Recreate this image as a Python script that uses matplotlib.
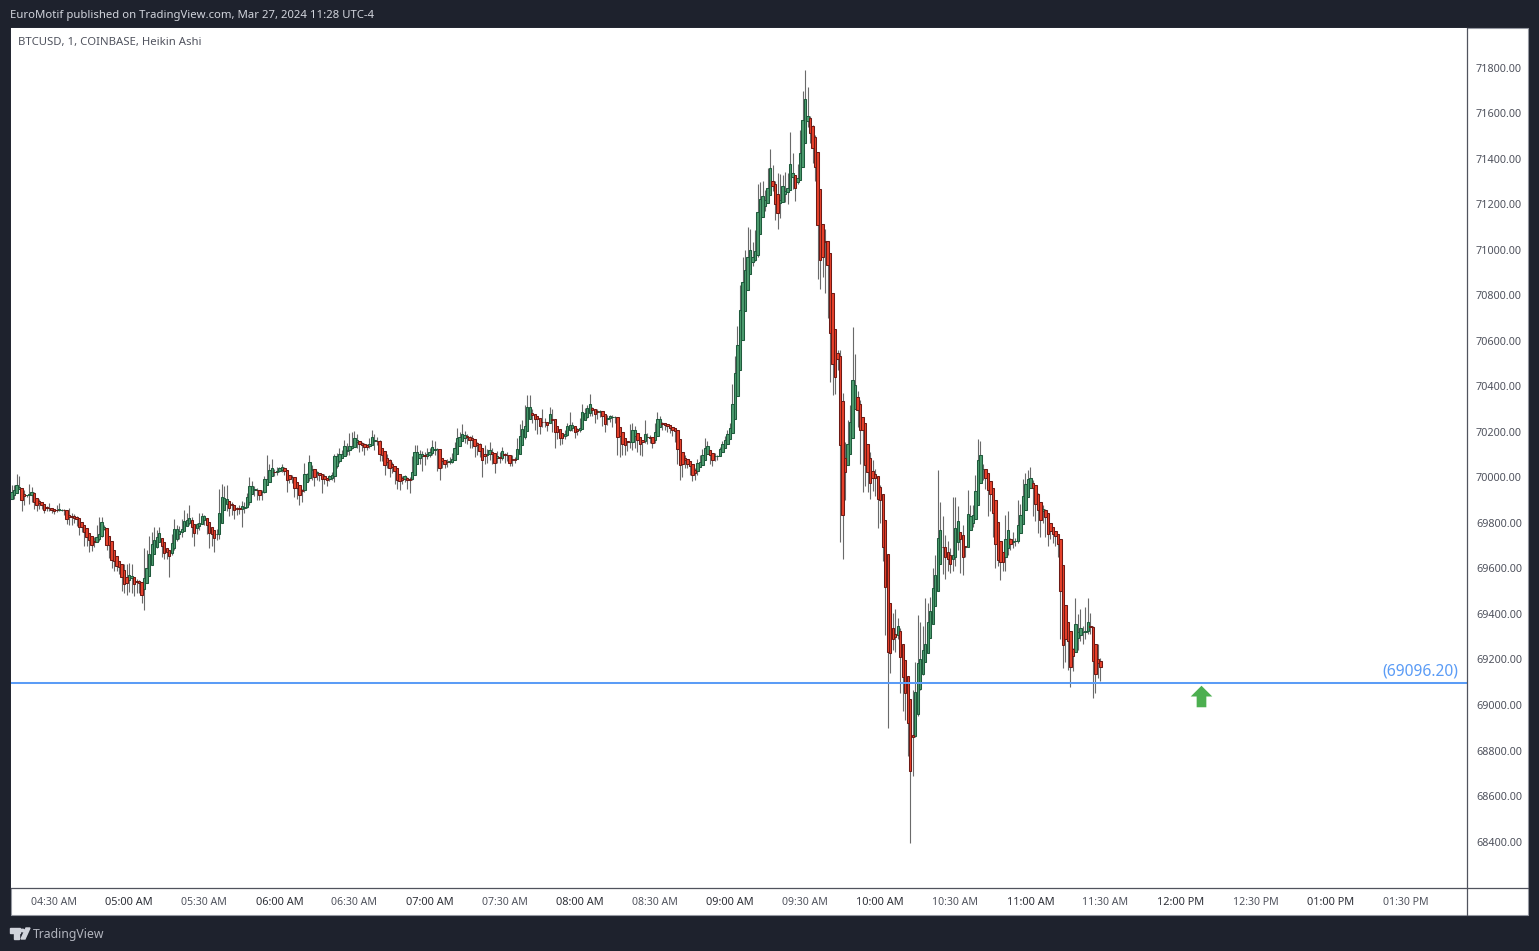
import numpy as np
import matplotlib
matplotlib.use("Agg")
import matplotlib.pyplot as plt
from matplotlib.lines import Line2D
from matplotlib.patches import Rectangle, Polygon, Circle
from matplotlib.path import Path

W, H = 1539, 951
FONT = "Noto Sans"

# 1 minute Heikin Ashi candles, first one at 04:13
first_minute = 4 * 60 + 13

closes = [
    69936,69943,69965,69958,69899,69917,69924,69926,69936,69892,
    69877,69889,69877,69855,69864,69866,69855,69850,69855,69860,
    69858,69855,69815,69826,69826,69820,69819,69782,69780,69760,
    69739,69724,69701,69715,69739,69753,69804,69782,69705,69702,
    69636,69634,69610,69607,69563,69531,69534,69569,69568,69530,
    69539,69537,69483,69560,69600,69663,69707,69724,69736,69756,
    69699,69666,69673,69655,69712,69771,69771,69765,69771,69809,
    69812,69823,69780,69756,69797,69800,69832,69829,69790,69756,
    69753,69734,69753,69844,69914,69910,69906,69867,69877,69855,
    69860,69860,69873,69870,69914,69960,69960,69947,69944,69924,
    69936,69994,69994,70034,70042,70023,70030,70039,70045,70030,
    69990,69994,70001,69955,69955,69923,69940,70016,70016,70069,
    70038,70001,70023,70012,69994,69993,69990,70004,70009,70092,
    70092,70104,70104,70136,70121,70139,70139,70174,70162,70147,
    70144,70133,70133,70148,70177,70163,70160,70101,70097,70053,
    70067,70042,70045,70028,69987,69984,69990,70004,69987,69990,
    70025,70113,70113,70101,70101,70092,70104,70111,70133,70126,
    70125,70042,70072,70057,70067,70072,70082,70130,70174,70177,
    70189,70187,70177,70163,70166,70136,70140,70116,70078,70095,
    70101,70119,70101,70063,70092,70086,70114,70097,70097,70063,
    70078,70078,70126,70180,70214,70227,70309,70309,70272,70258,
    70258,70227,70243,70243,70231,70277,70253,70199,70199,70174,
    70174,70192,70224,70228,70231,70199,70204,70218,70287,70283,
    70303,70324,70297,70280,70287,70290,70268,70236,70262,70268,
    70265,70265,70177,70180,70148,70141,70155,70157,70207,70209,
    70163,70145,70155,70192,70177,70174,70151,70198,70258,70258,
    70236,70231,70224,70217,70207,70204,70126,70054,70060,70075,
    70060,70048,70009,70019,70063,70068,70098,70130,70136,70097,
    70075,70092,70094,70126,70148,70163,70189,70218,70324,
    70460,70583,70737,70856,70913,70966,70998,70966,70995,71164,
    71221,71235,71218,71273,71361,71279,71200,71162,71218,71282,
    71259,71273,71375,71335,71269,71317,71423,71572,71664,71587,
    71511,71445,71365,71108,70954,70969,71035,70932,70632,70497,
    70441,70522,70140,69833,70023,70148,70243,70426,70407,70295,
    70209,70209,70053,70023,69975,69999,69999,69906,69899,69694,
    69519,69231,69227,69288,69300,69348,69212,69124,69054,68923,
    68708,68861,69056,69183,69200,69241,69266,69365,69412,69516,
    69570,69735,69770,69694,69651,69643,69621,69658,69779,69808,
    69731,69648,69692,69841,69830,69836,69939,70075,70096,70038,
    69999,69946,69928,69844,69709,69639,69626,69629,69727,69770,
    69706,69721,69721,69792,69836,69918,69972,69994,69999,69955,
    69884,69855,69814,69863,69826,69753,69765,69749,69741,69706,
    69501,69263,69292,69282,69168,69216,69354,69319,69336,69322,
    69326,69366,69344,69193,69134,69183,69168,
]

highs = [
    69965,69965,70013,70004,69955,69943,69924,69972,69958,69936,
    69895,69905,69885,69880,69872,69889,69862,69858,69880,69889,
    69862,69860,69858,69864,69844,69838,69830,69818,69790,69780,
    69755,69745,69720,69740,69790,69825,69828,69790,69770,69720,
    69660,69650,69625,69625,69610,69620,69620,69625,69620,69555,
    69555,69548,69540,69688,69680,69743,69760,69782,69770,69782,
    69720,69700,69690,69670,69750,69815,69790,69785,69815,69858,
    69843,69877,69825,69770,69800,69845,69845,69835,69810,69775,
    69765,69750,69775,69950,69972,69960,69965,69885,69890,69865,
    69868,69880,69895,69890,69930,70000,69985,69960,69955,69935,
    69945,70008,70100,70060,70082,70035,70045,70045,70060,70045,
    70005,70000,70010,69975,69965,69945,69950,70062,70020,70100,
    70055,70030,70030,70020,70005,70015,69993,70012,70025,70103,
    70105,70130,70118,70165,70150,70196,70199,70205,70190,70160,
    70155,70150,70145,70175,70207,70190,70178,70165,70120,70097,
    70103,70080,70068,70050,70025,70005,70005,70012,70000,70000,
    70095,70140,70140,70122,70115,70110,70130,70130,70165,70160,
    70130,70100,70082,70075,70080,70090,70105,70155,70215,70200,
    70236,70205,70190,70180,70185,70160,70155,70150,70110,70140,
    70125,70155,70130,70095,70115,70110,70135,70105,70110,70085,
    70100,70090,70175,70235,70250,70316,70360,70360,70300,70280,
    70270,70250,70300,70260,70245,70309,70300,70250,70210,70205,
    70195,70210,70240,70287,70245,70220,70215,70260,70324,70305,
    70320,70365,70310,70300,70300,70295,70280,70270,70272,70275,
    70275,70270,70220,70190,70170,70160,70160,70236,70240,70225,
    70175,70160,70160,70250,70195,70185,70160,70240,70285,70270,
    70245,70235,70230,70225,70215,70210,70195,70090,70095,70100,
    70075,70060,70030,70040,70080,70100,70125,70175,70160,70120,
    70105,70105,70100,70135,70160,70180,70210,70239,70409,
    70532,70663,70844,70968,70998,71100,71090,71035,71086,71288,
    71298,71303,71262,71361,71442,71372,71300,71335,71332,71328,
    71342,71338,71517,71423,71330,71376,71526,71697,71789,71713,
    71587,71548,71503,71430,71108,71108,71093,71035,70980,70632,
    70605,70561,70561,70370,70155,70250,70316,70661,70541,70380,
    70338,70267,70159,70111,70111,70077,70038,69987,69965,69855,
    69692,69400,69350,69406,69420,69380,69340,69225,69160,69066,
    68960,69066,69190,69395,69365,69346,69468,69446,69475,69600,
    69658,70034,69892,69830,69745,69720,69690,69914,69914,69873,
    69760,69792,69700,69946,69880,69880,70010,70170,70158,70060,
    70030,69985,69960,69900,69835,69735,69700,69655,69836,69851,
    69735,69760,69735,69899,69885,69994,70020,70034,70045,69990,
    69965,69931,69880,69880,69860,69775,69775,69770,69755,69730,
    69710,69500,69360,69350,69290,69250,69468,69400,69420,69345,
    69430,69470,69405,69345,69270,69270,69205,
]

lows = [
    69907,69907,69936,69950,69853,69877,69914,69885,69892,69863,
    69850,69862,69860,69845,69852,69850,69845,69838,69848,69852,
    69850,69835,69795,69790,69790,69798,69785,69745,69760,69700,
    69700,69670,69675,69695,69715,69720,69740,69770,69680,69645,
    69600,69590,69590,69575,69500,69490,69485,69495,69490,69480,
    69490,69490,69447,69417,69540,69590,69640,69680,69690,69725,
    69650,69640,69640,69563,69660,69680,69720,69730,69740,69770,
    69785,69790,69740,69700,69750,69770,69800,69790,69750,69690,
    69700,69670,69725,69730,69870,69860,69850,69830,69835,69815,
    69835,69840,69780,69845,69865,69880,69935,69920,69900,69900,
    69900,69930,69985,70000,70010,70005,70010,70022,70022,70010,
    69935,69975,69975,69915,69905,69880,69890,69935,69985,69985,
    69990,69960,69990,69985,69930,69970,69960,69985,69990,69980,
    70040,70065,70085,70105,70100,70100,70125,70140,70130,70110,
    70115,70100,70120,70130,70140,70120,70140,70070,70070,70010,
    70040,70000,70020,69970,69950,69945,69970,69980,69950,69930,
    69990,70010,70080,70060,70030,70055,70080,70090,70100,70100,
    70030,69990,70040,70040,70045,70060,70065,70095,70150,70145,
    70160,70150,70145,70130,70130,70090,70100,70090,70000,70060,
    70065,70075,70060,70020,70065,70065,70075,70065,70070,70050,
    70050,70065,70090,70120,70160,70170,70230,70280,70240,70210,
    70190,70190,70220,70220,70205,70240,70200,70130,70170,70140,
    70145,70170,70180,70205,70205,70175,70185,70200,70230,70260,
    70260,70270,70270,70240,70255,70265,70225,70200,70230,70245,
    70220,70240,70100,70090,70100,70100,70115,70130,70120,70130,
    70110,70100,70095,70150,70145,70150,70130,70150,70200,70220,
    70210,70210,70200,70195,70180,70155,70060,69990,70000,70040,
    70040,70010,69985,69990,70010,70045,70070,70095,70110,70060,
    70050,70070,70075,70095,70125,70150,70160,70190,70250,
    70340,70440,70570,70700,70840,70880,70925,70930,70950,70970,
    71120,71180,71170,71210,71250,71260,71130,71090,71140,71210,
    71210,71200,71280,71265,71215,71290,71380,71500,71620,71540,
    71470,71380,71300,70873,70829,70880,70812,70700,70419,70360,
    70368,70470,69716,69643,69899,70100,70190,70290,70330,70220,
    70060,69936,69960,69935,69906,69940,69920,69778,69800,69633,
    69307,68898,69139,69241,69234,69290,69051,68974,68935,68776,
    68393,68686,68860,68950,69066,69132,69200,69260,69330,69420,
    69510,69590,69620,69575,69555,69590,69580,69590,69610,69680,
    69580,69570,69650,69700,69770,69780,69850,69990,70035,69990,
    69950,69830,69850,69740,69600,69610,69550,69590,69590,69660,
    69680,69690,69700,69710,69790,69840,69930,69950,69960,69830,
    69810,69755,69740,69800,69740,69700,69730,69710,69700,69650,
    69290,69161,69190,69154,69078,69150,69290,69240,69280,69270,
    69290,69310,69310,69029,69051,69120,69105,
]

first_open = 69907
level_price = 69096.20
level_label = "(69096.20)"
arrow_minute = 12 * 60 + 8
arrow_price = 69040

price_ticks = list(range(68400, 71801, 200))
time_ticks = [4 * 60 + 30 + 30 * k for k in range(19)]
time_labels = ["04:30 AM", "05:00 AM", "05:30 AM", "06:00 AM", "06:30 AM", "07:00 AM", "07:30 AM",
               "08:00 AM", "08:30 AM", "09:00 AM", "09:30 AM", "10:00 AM", "10:30 AM", "11:00 AM",
               "11:30 AM", "12:00 PM", "12:30 PM", "01:00 PM", "01:30 PM"]

closes = np.array(closes, dtype=float)
highs = np.array(highs, dtype=float)
lows = np.array(lows, dtype=float)
minutes = first_minute + np.arange(len(closes))

# Heikin Ashi open: midpoint of the previous body
opens = np.zeros(len(closes))
opens[0] = first_open
for i in range(1, len(closes)):
    opens[i] = (opens[i - 1] + closes[i - 1]) / 2

tops = np.maximum(opens, closes)
bottoms = np.minimum(opens, closes)
highs = np.maximum(highs, tops)
lows = np.minimum(lows, bottoms)
up = closes >= opens

fig = plt.figure(figsize=(W / 100, H / 100), dpi=100, facecolor="#1e222d")

# white panel behind chart and both scales
fig.add_artist(Rectangle((11 / W, 1 - 915 / H), (1528 - 11) / W, (915 - 28) / H, transform=fig.transFigure,
                         facecolor="white", edgecolor="#9598a1", linewidth=0.8, zorder=-1))

ax = fig.add_axes([11 / W, 1 - 888 / H, (1467 - 11) / W, (888 - 28) / H])
ax.set_facecolor("white")
ax.set_xlim(252.8, 834.4)
ax.set_ylim(68196, 71974)
for side in ax.spines:
    ax.spines[side].set_visible(False)

# scale separators run through to the panel edges
sep = "#50535e"
fig.add_artist(Line2D([11 / W, 1528 / W], [1 - 888 / H, 1 - 888 / H], color=sep, linewidth=0.9, zorder=3))
fig.add_artist(Line2D([1467 / W, 1467 / W], [1 - 28 / H, 1 - 915 / H], color=sep, linewidth=0.9, zorder=3))

ax.vlines(minutes, lows, highs, color="#6a6a6a", linewidth=0.8, zorder=2)
ax.bar(minutes[up], (tops - bottoms)[up], bottom=bottoms[up], width=0.95, color="#4c9c6e",
       edgecolor="#1f5a3c", linewidth=0.75, zorder=3)
ax.bar(minutes[~up], (tops - bottoms)[~up], bottom=bottoms[~up], width=0.95, color="#e8412b",
       edgecolor="#6d1a15", linewidth=0.75, zorder=3)

ax.axhline(level_price, color="#5b9cf6", linewidth=1.45, zorder=4)
ax.text((1458 - 11) / (1467 - 11), level_price + 15, level_label, transform=ax.get_yaxis_transform(),
        ha="right", va="bottom", color="#5b9cf6", fontsize=11.2, family=FONT)

up_arrow = Path([(-1, 0), (0, 1), (1, 0), (0.45, 0), (0.45, -1), (-0.45, -1), (-0.45, 0), (-1, 0)], closed=False)
ax.plot([arrow_minute], [arrow_price], marker=up_arrow, markersize=15.5, color="#4caf50", markeredgewidth=0, zorder=5)

ax.yaxis.tick_right()
ax.set_yticks(price_ticks)
ax.set_yticklabels([f"{p}.00" for p in price_ticks], fontsize=7.8, color="#50535e", family=FONT)
ax.set_xticks(time_ticks)
ax.set_xticklabels(time_labels, fontsize=7.6, color="#50535e", family=FONT)
ax.tick_params(axis="y", length=0, pad=6.5)
ax.tick_params(axis="x", length=0, pad=6.2)
for tick, minute in zip(ax.get_xticklabels(), time_ticks):
    if minute % 60 == 0:
        tick.set_fontweight("bold")
        tick.set_fontsize(7.9)
        tick.set_color("#2e3038")

fig.text(10 / W, 1 - 15.5 / H, "EuroMotif published on TradingView.com, Mar 27, 2024 11:28 UTC-4", color="#d1d4dc",
         fontsize=8.15, va="center", family=FONT)
fig.text(18 / W, 1 - 43 / H, "BTCUSD, 1, COINBASE, Heikin Ashi", color="#50535e", fontsize=8.15, va="center", family=FONT)

# TradingView footer logo and name
logo = "#d1d4dc"
fig.add_artist(Rectangle((10 / W, 1 - 933 / H), 10 / W, 5 / H, transform=fig.transFigure, color=logo))
fig.add_artist(Rectangle((14 / W, 1 - 939 / H), 5 / W, 7 / H, transform=fig.transFigure, color=logo))
fig.add_artist(Circle((22.5 / W, 1 - 930.5 / H), 2.0 / W, transform=fig.transFigure, color=logo))
fig.add_artist(Polygon([(21 / W, 1 - 939 / H), (26 / W, 1 - 928 / H), (30 / W, 1 - 928 / H), (25 / W, 1 - 939 / H)],
                       transform=fig.transFigure, color=logo))
fig.text(33 / W, 1 - 934.5 / H, "TradingView", color="#b2b5be", fontsize=8.8, va="center", family=FONT)

fig.savefig("out.png", dpi=100, facecolor=fig.get_facecolor())
